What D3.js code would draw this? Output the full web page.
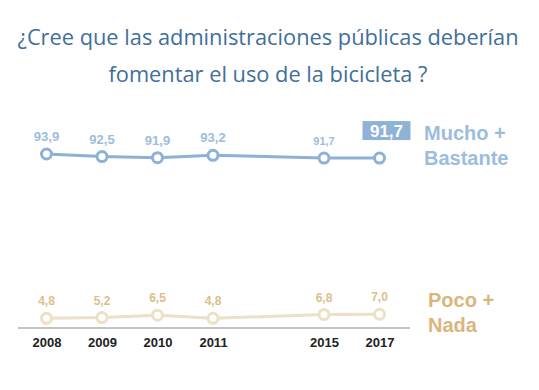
<!DOCTYPE html>
<html>
  <meta charset="utf-8" />
  <head>
    <script src="https://cdnjs.cloudflare.com/ajax/libs/d3/7.8.5/d3.min.js"></script>
    <style>
      body { margin: 0; background: #fff; }
    </style>
  </head>
  <body>
    <script>
    const years = ["2008", "2009", "2010", "2011", "2015", "2017"];
    // horizontal slot of each year (the chart leaves one empty slot between 2011 and 2015)
    const slots = [0, 1, 2, 3, 5, 6];
    const muchoValues = [93.9, 92.5, 91.9, 93.2, 91.7, 91.7];
    const pocoValues = [4.8, 5.2, 6.5, 4.8, 6.8, 7.0];
    const titleLines = [
        "¿Cree que las administraciones públicas deberían",
        "fomentar el uso de la bicicleta ?",
    ];

    const fmt = (v) => d3.format(".1f")(v).replace(".", ",");

    const width = 539, height = 390;
    const blue = "#8eb2d5", blueText = "#9dbddc";
    const beige = "#ede0c6", beigeText = "#dcbf8c", beigeLabel = "#d8b67d";

    const svg = d3
        .select("body")
        .append("svg")
        .attr("width", width)
        .attr("height", height);

    svg.append("g")
        .selectAll("text")
        .data(titleLines)
        .enter()
        .append("text")
        .attr("x", 268)
        .attr("y", (d, i) => 45 + i * 37)
        .attr("text-anchor", "middle")
        .attr("font-family", "Open Sans, sans-serif")
        .attr("font-size", "21.8px")
        .attr("fill", "#3f6f9b")
        .text((d) => d);

    const x = d3.scaleLinear().domain([0, 6]).range([46.5, 379.5]);
    const y = d3.scaleLinear().domain([4.8, 93.9]).range([318.3, 154]);

    // baseline axis
    const axis = svg.append("g").attr("transform", "translate(0,328)");
    axis.call(
        d3.axisBottom(x)
            .tickValues(slots)
            .tickFormat((d, i) => years[i])
            .tickSize(0)
            .tickPadding(10)
    );
    axis.select(".domain").remove();
    axis.append("line")
        .attr("x1", 18)
        .attr("x2", 410)
        .attr("stroke", "#b0b0b0")
        .attr("stroke-width", 1.5);
    axis.selectAll(".tick text")
        .attr("font-family", "Liberation Sans, Arial, sans-serif")
        .attr("font-size", "13px")
        .attr("font-weight", "bold")
        .attr("fill", "#222");

    function drawSeries(values, color, textColor, fontSize, hideLast) {
        const pts = values.map((v, i) => [slots[i], v]);
        const g = svg.append("g");
        g.append("path")
            .datum(pts)
            .attr("fill", "none")
            .attr("stroke", color)
            .attr("stroke-width", 3)
            .attr("d", d3.line().x((d) => x(d[0])).y((d) => y(d[1])));
        g.selectAll("circle")
            .data(pts)
            .enter()
            .append("circle")
            .attr("cx", (d) => x(d[0]))
            .attr("cy", (d) => y(d[1]))
            .attr("r", 5)
            .attr("fill", "#fff")
            .attr("stroke", color)
            .attr("stroke-width", 3);
        g.selectAll("text")
            .data(hideLast ? pts.slice(0, -1) : pts)
            .enter()
            .append("text")
            .attr("x", (d) => x(d[0]))
            .attr("y", (d) => y(d[1]) - 13)
            .attr("text-anchor", "middle")
            .attr("font-family", "Liberation Sans, Arial, sans-serif")
            .attr("font-size", (d, i) => (hideLast && i === 4 ? fontSize - 2 : fontSize) + "px")
            .attr("font-weight", "bold")
            .attr("fill", textColor)
            .text((d) => fmt(d[1]));
    }

    drawSeries(muchoValues, blue, blueText, 13, true);
    drawSeries(pocoValues, beige, beigeText, 12, false);

    // highlighted latest value
    const last = muchoValues[muchoValues.length - 1];
    const hx = x(slots[slots.length - 1]);
    svg.append("rect")
        .attr("x", hx - 17)
        .attr("y", y(last) - 37)
        .attr("width", 48)
        .attr("height", 19)
        .attr("fill", "#8fb3d6");
    svg.append("text")
        .attr("x", hx + 7)
        .attr("y", y(last) - 21.5)
        .attr("text-anchor", "middle")
        .attr("font-family", "Liberation Sans, Arial, sans-serif")
        .attr("font-size", "17px")
        .attr("font-weight", "bold")
        .attr("fill", "#fff")
        .text(fmt(last));

    function seriesLabel(lines, color, x0, y0) {
        svg.append("g")
            .selectAll("text")
            .data(lines)
            .enter()
            .append("text")
            .attr("x", x0)
            .attr("y", (d, i) => y0 + i * 25)
            .attr("font-family", "Liberation Sans, Arial, sans-serif")
            .attr("font-size", "20px")
            .attr("font-weight", "bold")
            .attr("fill", color)
            .text((d) => d);
    }
    seriesLabel(["Mucho +", "Bastante"], blueText, 424, 139.5);
    seriesLabel(["Poco +", "Nada"], beigeLabel, 428, 306.5);
    </script>
  </body>
</html>
